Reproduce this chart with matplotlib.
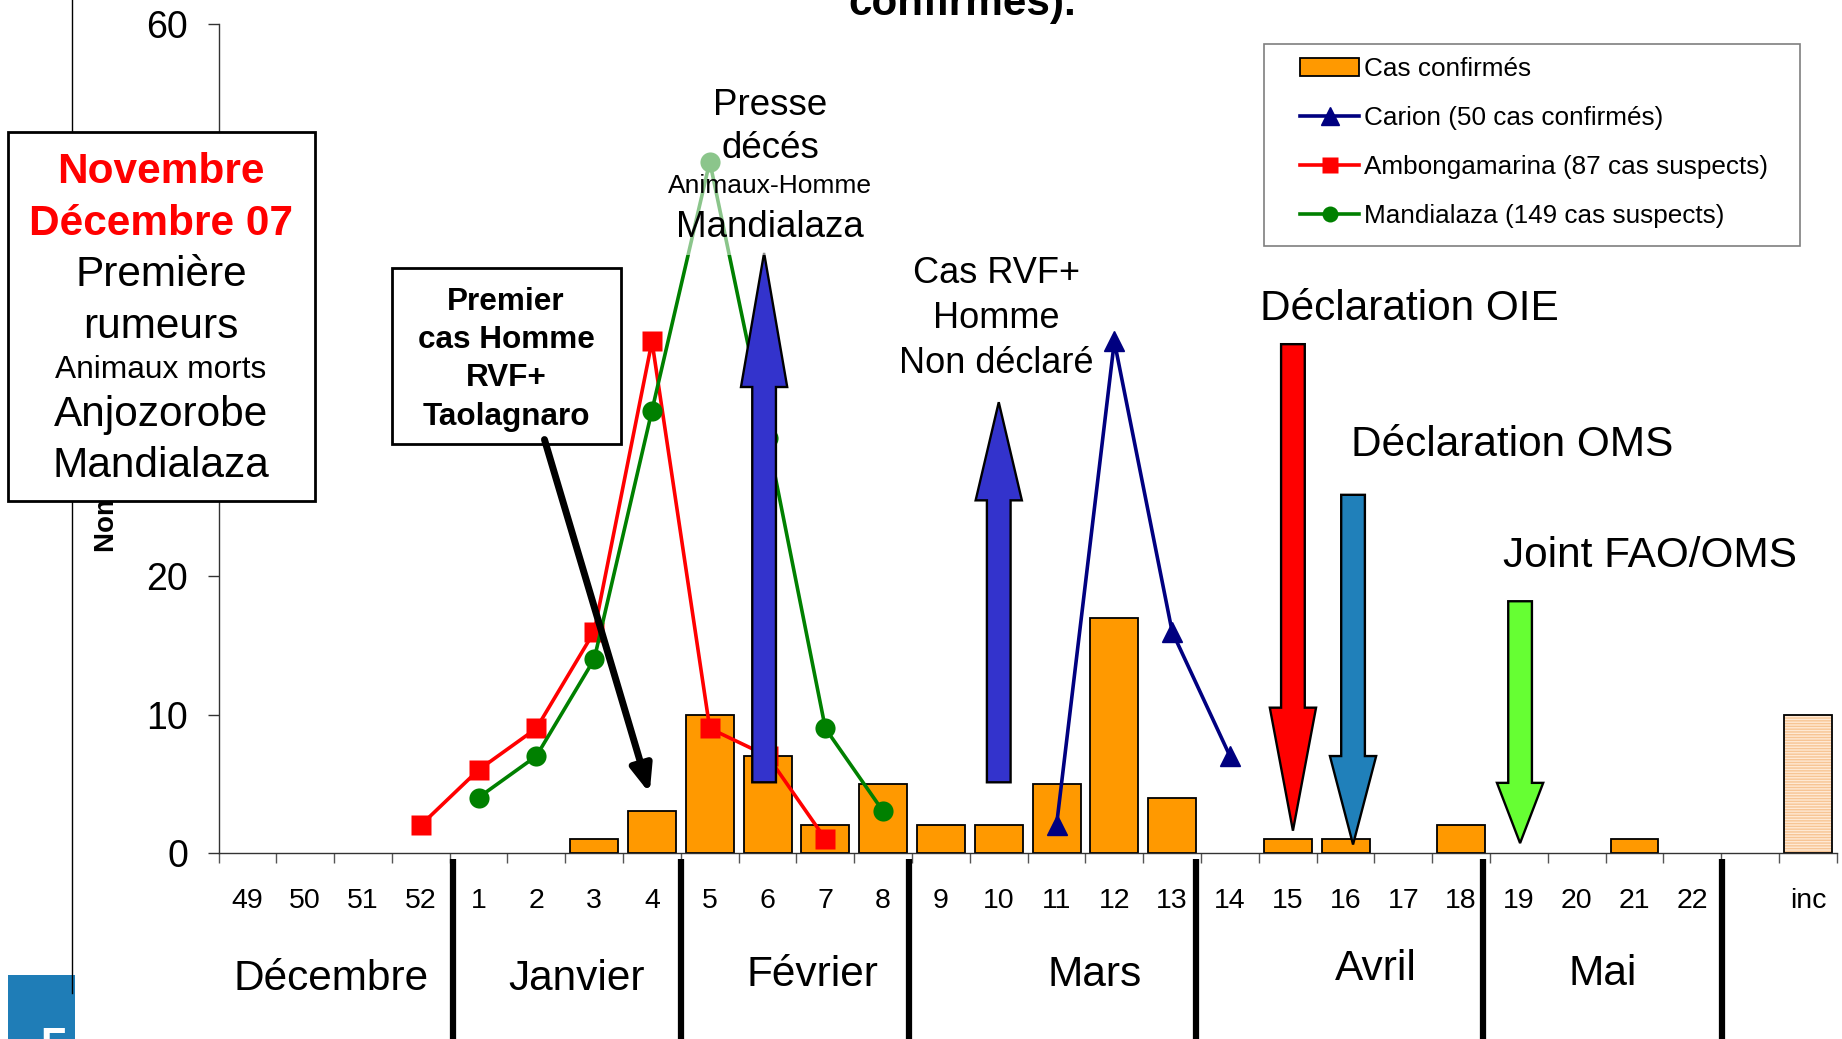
import numpy as np
import matplotlib.pyplot as plt
from matplotlib.patches import Rectangle, Polygon, FancyArrowPatch, Patch
from matplotlib.lines import Line2D
from matplotlib.transforms import blended_transform_factory

plt.rcParams['font.family'] = ['Liberation Sans', 'DejaVu Sans']

# weekly categories (Dec 2007 - May 2008), one empty slot, then unknown date
weeks = ['49', '50', '51', '52', '1', '2', '3', '4', '5', '6', '7', '8', '9', '10',
         '11', '12', '13', '14', '15', '16', '17', '18', '19', '20', '21', '22', '', 'inc']
confirmed = [0, 0, 0, 0, 0, 0, 1, 3, 10, 7, 2, 5, 2, 2,
             5, 17, 4, 0, 1, 1, 0, 2, 0, 0, 1, 0, 0, 10]

carion_weeks = ['11', '12', '13', '14']
carion = [2, 37, 16, 7]
ambong_weeks = ['52', '1', '2', '3', '4', '5', '6', '7']
ambong = [2, 6, 9, 16, 37, 9, 7, 1]
mandia_weeks = ['1', '2', '3', '4', '5', '6', '7', '8']
mandia = [4, 7, 14, 32, 50, 30, 9, 3]

months = ['Décembre', 'Janvier', 'Février', 'Mars', 'Avril', 'Mai']
yticks = [0, 10, 20, 30, 40, 50, 60]
# 30-50 sit under the text box on the slide
ytick_labels = ['0', '10', '20', '', '', '', '60']

# layout (reference pixel grid 1842 x 1039)
W, H = 1842, 1039


def fx(px):
    return px / W


def fy(py):
    return 1 - py / H


def pos(ws):
    return [weeks.index(w) for w in ws]


fig = plt.figure(figsize=(18.42, 10.39), dpi=100)
ax = fig.add_axes([fx(218.5), fy(852.8), fx(1836.8) - fx(218.5), fy(23.5) - fy(852.8)])

x = np.arange(len(weeks))
conf = np.array(confirmed)
inc = len(weeks) - 1
known = (x < inc) & (conf > 0)
ax.bar(x[known], conf[known], width=0.83, color='#FF9900', edgecolor='black', linewidth=1.3, zorder=2)
ax.bar(x[inc], conf[inc], width=0.83, color='#FFE9D4', edgecolor='#F7C594', hatch='------',
       linewidth=0, zorder=2)
ax.bar(x[inc], conf[inc], width=0.83, fill=False, edgecolor='black', linewidth=1.3, zorder=2)

ax.plot(pos(carion_weeks), carion, color='#000080', lw=2.6, marker='^', ms=15, zorder=3)
ax.plot(pos(ambong_weeks), ambong, color='#FF0000', lw=2.6, marker='s', ms=15, mec='none', zorder=3)
ax.plot(pos(mandia_weeks), mandia, color='#008000', lw=2.6, marker='o', ms=14.5, mec='none', zorder=3)

ax.set_xlim(-0.5, len(weeks) - 0.5)
ax.set_ylim(0, 60)
for s in ['top', 'right']:
    ax.spines[s].set_visible(False)
for s in ['left', 'bottom']:
    ax.spines[s].set_color('#333333')
    ax.spines[s].set_linewidth(1)

ax.set_yticks(yticks, ytick_labels)
ax.tick_params(axis='y', labelsize=27, length=8, width=1, pad=14, colors='#333333', labelcolor='black')
ax.set_xticks(x, weeks)
ax.set_xticks(np.arange(-0.5, len(weeks), 1), minor=True)
ax.tick_params(axis='x', which='major', length=0, labelsize=20.5, pad=25.5)
ax.tick_params(axis='x', which='minor', length=7, width=1, colors='#555555')

# block arrows (PowerPoint style): x, tail, head base, tip, colour
block_arrows = [
    (8.94, 5.1, 33.7, 43.4, '#3333CC'),
    (13.0, 5.1, 25.5, 32.6, '#3333CC'),
    (18.09, 36.8, 10.5, 1.6, '#FF0000'),
    (19.13, 25.9, 7.0, 0.6, '#2080BA'),
    (22.02, 18.2, 5.06, 0.7, '#66FF33'),
]
sw, hw = 0.41, 0.80
for xc, tail, base, tip, col in block_arrows:
    pts = [(xc - sw / 2, tail), (xc - sw / 2, base), (xc - hw / 2, base), (xc, tip),
           (xc + hw / 2, base), (xc + sw / 2, base), (xc + sw / 2, tail)]
    ax.add_patch(Polygon(pts, closed=True, facecolor=col, edgecolor='black', lw=1.7,
                         joinstyle='miter', zorder=5, clip_on=False))

# month separators and labels under the axis
bt = blended_transform_factory(ax.transData, fig.transFigure)
sep_x = [3.55, 7.5, 11.45, 16.42, 21.38, 25.52]
for sx in sep_x:
    ax.plot([sx, sx], [fy(859), fy(1045)], transform=bt, color='black', lw=4.5,
            solid_capstyle='butt', clip_on=False)
month_x = [1.44, 5.70, 9.77, 14.66, 19.53, 23.45]
month_base = [990, 990, 986, 986, 980, 985]
for m, mx, mb in zip(months, month_x, month_base):
    ax.text(mx, fy(mb), m, transform=bt, ha='center', va='baseline', fontsize=30.5)

# slide decorations
fig.add_artist(Rectangle((fx(8), fy(1039)), fx(75) - fx(8), fy(975) - fy(1039),
                         facecolor='#1F7DB7', edgecolor='none', zorder=1))
fig.text(fx(40), fy(1026), 'F', color='white', fontsize=30, fontweight='bold', va='top', zorder=2)
fig.add_artist(Line2D([fx(72), fx(72)], [fy(0), fy(993)], color='black', lw=1, zorder=2))
fig.text(fx(962), fy(15), 'confirmés).', ha='center', va='baseline', fontsize=30.4, fontweight='bold')
fig.text(fx(107), fy(552), 'Nombre de cas', rotation=90, ha='center', va='bottom',
         fontsize=20, fontweight='bold', zorder=1)

# left text box
fig.add_artist(Rectangle((fx(8), fy(501)), fx(315) - fx(8), fy(132) - fy(501),
                         facecolor='white', edgecolor='black', lw=2, zorder=5))
box_lines = [('Novembre', 183, 30.5, 'red', 'bold'), ('Décembre 07', 235, 30.5, 'red', 'bold'),
             ('Première', 286, 30.5, 'black', 'normal'), ('rumeurs', 338, 30.5, 'black', 'normal'),
             ('Animaux morts', 378, 22.8, 'black', 'normal'), ('Anjozorobe', 426, 30.5, 'black', 'normal'),
             ('Mandialaza', 477, 30.5, 'black', 'normal')]
for t, by, fs, c, fw in box_lines:
    fig.text(fx(161), fy(by), t, ha='center', va='baseline', fontsize=fs, color=c,
             fontweight=fw, zorder=6)

# "Premier cas" box and its arrow
fig.add_artist(Rectangle((fx(391.5), fy(444)), fx(620.5) - fx(391.5), fy(268) - fy(444),
                         facecolor='white', edgecolor='black', lw=2, zorder=5))
for t, by in [('Premier', 310), ('cas Homme', 348), ('RVF+', 386), ('Taolagnaro', 425)]:
    fig.text(fx(506), fy(by), t, ha='center', va='baseline', fontsize=22.7,
             fontweight='bold', zorder=6)
fig.add_artist(FancyArrowPatch((5.14, 29.9), (6.96, 4.3), transform=ax.transData,
                               arrowstyle='-|>,head_length=0.5,head_width=0.2',
                               mutation_scale=32, lw=5, color='black',
                               shrinkA=0, shrinkB=0, zorder=7))

# faded band behind the "Presse" note
fig.add_artist(Rectangle((fx(665), fy(255)), fx(876) - fx(665), fy(78) - fy(255),
                         facecolor='white', edgecolor='none', alpha=0.55, zorder=1))
notes = [('Presse', 770, 115, 26.5), ('décés', 770, 158, 26.5), ('Animaux-Homme', 770, 193, 19),
         ('Mandialaza', 770, 237, 26.5),
         ('Cas RVF+', 996, 283, 26), ('Homme', 996, 328, 26), ('Non déclaré', 996, 373, 26)]
for t, nx, ny, fs in notes:
    fig.text(fx(nx), fy(ny), t, ha='center', va='baseline', fontsize=fs, zorder=3)
for t, nx, ny in [('Déclaration OIE', 1260, 320), ('Déclaration OMS', 1351, 456),
                  ('Joint FAO/OMS', 1503, 567)]:
    fig.text(fx(nx), fy(ny), t, ha='left', va='baseline', fontsize=30.5, zorder=3)

# legend
handles = [Patch(facecolor='#FF9900', edgecolor='black', lw=1.3),
           Line2D([], [], color='#000080', lw=2.6, marker='^', ms=13),
           Line2D([], [], color='#FF0000', lw=2.6, marker='s', ms=12, mec='none'),
           Line2D([], [], color='#008000', lw=2.6, marker='o', ms=11.5, mec='none')]
labels = ['Cas confirmés', 'Carion (50 cas confirmés)', 'Ambongamarina (87 cas suspects)',
          'Mandialaza (149 cas suspects)']
fig.legend(handles, labels, loc='upper left', bbox_to_anchor=(fx(1300), fy(57)),
           frameon=False, fontsize=18.8, borderpad=0, borderaxespad=0,
           handlelength=2.27, handletextpad=0.2, labelspacing=0.96, numpoints=1)
fig.add_artist(Rectangle((fx(1263.5), fy(246)), fx(1799.6) - fx(1263.5), fy(44.3) - fy(246),
                         fill=False, edgecolor='#7F7F7F', lw=1.2, zorder=4))

fig.savefig('out.png', dpi=100)
